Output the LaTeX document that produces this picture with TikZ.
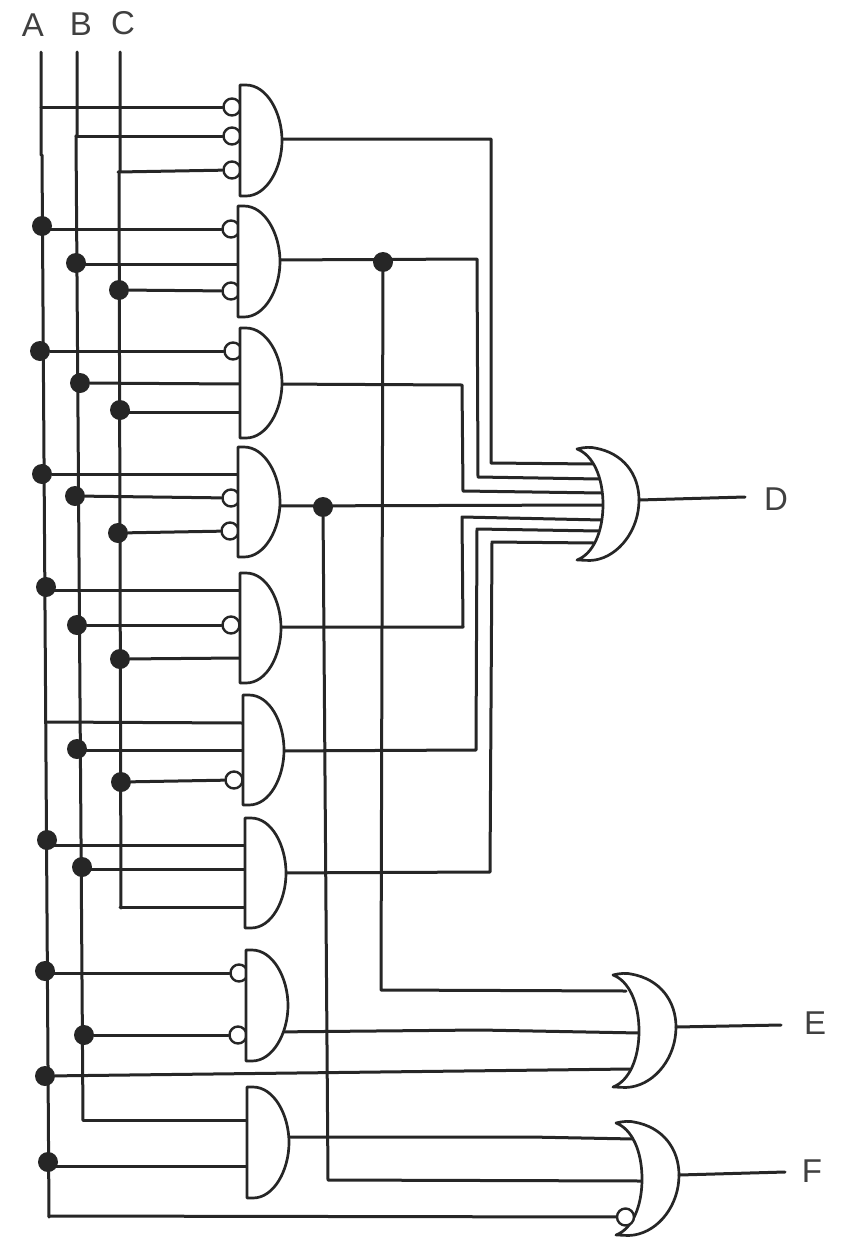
\documentclass[tikz,border=0pt]{standalone}
\usepackage{fontspec}
\setmainfont{Liberation Sans}
\definecolor{ink}{HTML}{262626}
\definecolor{lab}{HTML}{404040}
\tikzset{
  wire/.style={draw=ink,line width=3pt,line join=round,line cap=round},
  gatebody/.style={draw=ink,line width=2.7pt,fill=white,line join=round,line cap=round},
  dotnode/.style={circle,fill=ink,draw=none,minimum size=20pt,inner sep=0pt},
  bub/.style={circle,fill=white,draw=ink,line width=2.4pt,minimum size=17pt,inner sep=0pt},
  lbl/.style={text=lab,font=\fontsize{33}{33}\selectfont,inner sep=0pt},
}
% name, left x, top y, bottom y, right x, output y
\newcommand{\andg}[6]{%
  \path[gatebody] (#2,#3) -- (#2+6,#3) .. controls (#2+27,#3) and (#5,#3+28) .. (#5,{(#3+#4)/2})
    .. controls (#5,#4-28) and (#2+27,#4) .. (#2+6,#4) -- (#2,#4) -- cycle;
}
% name, tip x, top y, bottom y, back x, front x, front y
\newcommand{\org}[7]{%
  \path[gatebody] (#2,#3) .. controls (#2+8,#3-2) and (#2+14,#3-2) .. (#2+18,#3-1)
    .. controls (#6-16,#3+4) and (#6,#7-26) .. (#6,#7)
    .. controls (#6,#7+30) and (#6-20,#4-4) .. (#2+18,#4)
    .. controls (#2+12,#4+1) and (#2+6,#4) .. (#2,#4)
    .. controls (#2+16,#4-6) and (#5,#4-28) .. (#5,{(#3+#4)/2})
    .. controls (#5,#3+28) and (#2+16,#3+6) .. (#2,#3) -- cycle;
  \coordinate (#1o) at (#6,#7);
}
\begin{document}
\begin{tikzpicture}[x=1pt,y=-1pt]
\useasboundingbox (0,0) rectangle (866,1250);
\fill[white] (0,0) rectangle (866,1250);
% labels
\node[lbl] (la) at (33,25) {A};
\node[lbl] (lb) at (81,24) {B};
\node[lbl] (lc) at (123,23) {C};
\node[lbl] (ld) at (776,499) {D};
\node[lbl] (le) at (815,1023) {E};
\node[lbl] (lf) at (812,1171) {F};
% free ends of the buses
\coordinate (At) at (41,52);
\coordinate (Ab) at (49,1217);
\coordinate (Bt) at (77,52);
\coordinate (Bb) at (83,1120);
\coordinate (Ct) at (120,52);
\coordinate (Cb) at (121,908);
% buses
\path[wire] (At) -- (41,155) -- (42,155) -- (Ab);
\path[wire] (Bt) -- (77,136) -- (76,136) -- (Bb);
\path[wire] (Ct) -- (120,172) -- (119,172) -- (Cb);
% junctions on the buses
\foreach \n/\x/\y in {a2/42/226,b2/76/263,c2/119/290,a3/40/351,b3/80/383,c3/120/410,
  a4/42/474,b4/75/496,c4/118/533,a5/46/587,b5/77/625,c5/120/659,b6/77/749,c6/121/782,
  a7/47/840,b7/82/867,a8/45/971,b8/84/1035,ae/45/1076,a9/48/1162}
  \node[dotnode] (\n) at (\x,\y) {};
\coordinate (a1) at (41,107);
\coordinate (b1) at (76,136);
\coordinate (c1) at (118,172);
\coordinate (a6) at (46,722);
\coordinate (c7) at (120,907);
\coordinate (af) at (49,1216);
% bubble inverters
\foreach \n/\x/\y in {p1a/232/107,p1b/232/136,p1c/232/170,p2a/231/229,p2c/231/291,p3a/233/351,
  p4b/231/498,p4c/230/531,p5b/231/625,p6c/234/780,p8a/239/973,p8b/238/1035}
  \node[bub] (\n) at (\x,\y) {};
% plain input ends
\coordinate (i2b) at (238,264);
\coordinate (i3b) at (240,384);
\coordinate (i3c) at (240,412);
\coordinate (i4a) at (238,474);
\coordinate (i5a) at (240,590);
\coordinate (i5c) at (240,658);
\coordinate (i6a) at (243,723);
\coordinate (i6b) at (243,750);
\coordinate (i7a) at (245,845);
\coordinate (i7b) at (245,869);
\coordinate (i7c) at (245,907);
\coordinate (i9b) at (247,1120);
\coordinate (i9a) at (247,1166);
% input wires
\path[wire] (a1) -- (p1a); \path[wire] (b1) -- (p1b); \path[wire] (c1) -- (p1c);
\path[wire] (a2 |- p2a) -- (p2a); \path[wire] (b2 |- i2b) -- (i2b); \path[wire] (c2) -- (p2c);
\path[wire] (a3) -- (p3a); \path[wire] (b3) -- (i3b); \path[wire] (c3 |- i3c) -- (i3c);
\path[wire] (a4) -- (i4a); \path[wire] (b4) -- (p4b); \path[wire] (c4) -- (p4c);
\path[wire] (a5 |- i5a) -- (i5a); \path[wire] (b5) -- (p5b); \path[wire] (c5) -- (i5c);
\path[wire] (a6) -- (i6a); \path[wire] (b6 |- i6b) -- (i6b); \path[wire] (c6) -- (p6c);
\path[wire] (a7 |- i7a) -- (i7a); \path[wire] (b7 |- i7b) -- (i7b); \path[wire] (c7) -- (i7c);
\path[wire] (a8 |- p8a) -- (p8a); \path[wire] (b8) -- (p8b);
\path[wire] (Bb) -- (i9b); \path[wire] (a9 |- i9a) -- (i9a);
% OR gates' input ends
\coordinate (d1) at (594,464);
\coordinate (d2) at (599,479);
\coordinate (d3) at (602,493);
\coordinate (d4) at (603,505);
\coordinate (d5) at (602,520);
\coordinate (d6) at (599,531);
\coordinate (d7) at (594,543);
\coordinate (e1) at (626,991);
\coordinate (e2) at (640,1033);
\coordinate (e3) at (630,1069);
\coordinate (f1) at (634,1139);
\coordinate (f2) at (642,1181);
% junctions on the outputs
\node[dotnode] (j2) at (383,262) {};
\node[dotnode] (j4) at (323,507) {};
% output ends of the AND gates (just inside each body, which is drawn over them)
\coordinate (g1o) at (270,139);
\coordinate (g2o) at (270,260);
\coordinate (g3o) at (270,384);
\coordinate (g4o) at (270,506);
\coordinate (g5o) at (270,627);
\coordinate (g6o) at (270,751);
\coordinate (g7o) at (270,873);
\coordinate (g8o) at (270,1032);
\coordinate (g9o) at (270,1137);
% output wires of the AND gates
\path[wire] (g1o) -- (491,139) -- (491,463) -- (d1);
\path[wire] (g2o) -- (477,259) -- (478,477) -- (d2);
\path[wire] (g3o) -- (462,385) -- (463,491) -- (d3);
\path[wire] (g4o) -- (d4);
\path[wire] (g5o) -- (463,627) -- (462,517) -- (d5);
\path[wire] (g6o) -- (476,750) -- (477,529) -- (d6);
\path[wire] (g7o) -- (490,872) -- (492,542) -- (d7);
\path[wire] (j2) -- (381,990) -- (e1);
\path[wire] (j4) -- (328,1180) -- (f2);
\path[wire] (g8o) -- (480,1030) -- (e2);
\path[wire] (ae) -- (e3);
\path[wire] (g9o) -- (530,1137) -- (f1);
% AND gates
\andg{g1}{240}{85}{196}{282}{139}
\andg{g2}{238}{206}{317}{280}{260}
\andg{g3}{240}{328}{438}{282}{384}
\andg{g4}{238}{447}{557}{280}{506}
\andg{g5}{240}{573}{683}{281}{627}
\andg{g6}{243}{695}{805}{284}{751}
\andg{g7}{245}{818}{928}{286}{873}
\andg{g8}{246}{950}{1061}{288}{1032}
\andg{g9}{247}{1087}{1198}{289}{1137}
% OR gates
\org{gd}{577}{449}{560}{603}{639}{500}
\org{ge}{613}{975}{1087}{639}{676}{1027}
\org{gf}{616}{1123}{1235}{642}{679}{1175}
% inverted input of the F gate
\node[bub] (pf) at (625.5,1217) {};
\path[wire] (af) -- (pf);
% outputs
\coordinate (od) at (745,497);
\coordinate (oe) at (781,1025);
\coordinate (of) at (785,1172);
\path[wire] (gdo) -- (od);
\path[wire] (geo) -- (oe);
\path[wire] (gfo) -- (of);
\end{tikzpicture}
\end{document}
